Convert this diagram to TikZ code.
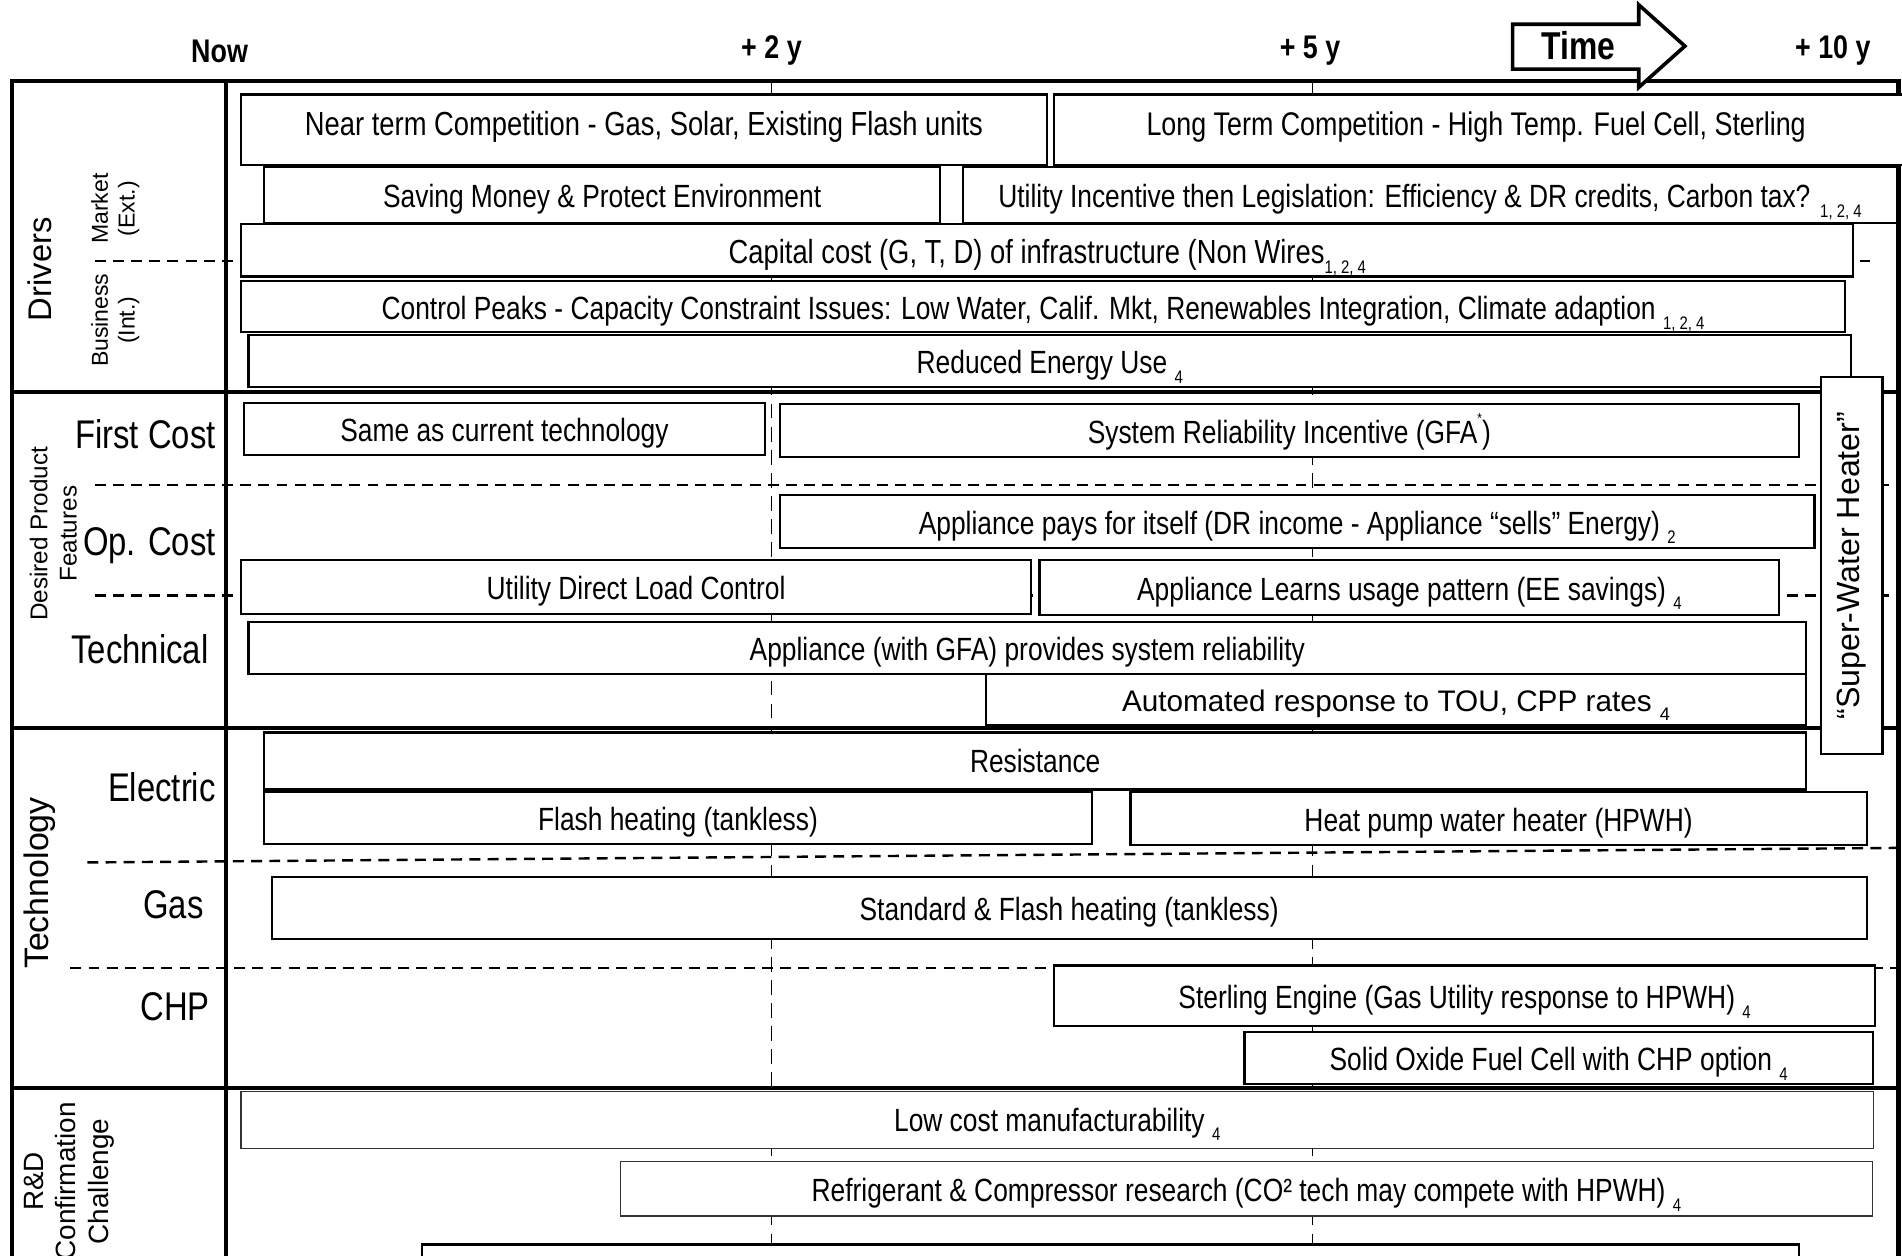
\documentclass[tikz,border=0pt]{standalone}
\usepackage{fontspec}
\setmainfont{Liberation Sans}[FakeStretch=0.82]
\newfontfamily\widefont{Liberation Sans}
\newcommand\lsub[1]{\raisebox{-0.3em}{\fontsize{15}{15}\selectfont #1}}
\newcommand\lsup[1]{\raisebox{0.6em}{\fontsize{12}{12}\selectfont #1}}
\begin{document}
\begin{tikzpicture}[x=1pt,y=-1pt,
  bx/.style={draw=black, line width=1.8pt, fill=white, inner sep=0pt, anchor=north west,
    text height=21pt, text depth=0pt, font=\fontsize{26.5}{28}\selectfont},
  thinbx/.style={bx, draw=black!80, line width=1.1pt},
  frameline/.style={line width=3.5pt},
  subline/.style={dash pattern=on 9pt off 6pt, line width=2pt},
  tline/.style={dash pattern=on 12pt off 7pt, line width=1.6pt},
  hdr/.style={font=\bfseries\fontsize{27}{30}\selectfont, inner sep=0pt},
  rowlbl/.style={font=\fontsize{33}{35}\selectfont, inner sep=0pt, anchor=east},
  rotlbl/.style={rotate=90, align=center, inner sep=0pt},
]
\useasboundingbox (0,0) rectangle (1568,1035);

% time grid lines
\draw[tline] (636,67) -- (636,1045);
\draw[tline] (1082,67) -- (1082,1045);

% sub dividers
\draw[subline] (78,215) -- (1547,215);
\draw[subline] (78,400) -- (1565,400);
\draw[subline] (78,491) -- (1565,491);
\draw[subline] (72,711) -- (1565,699);
\draw[subline] (58,798) -- (1565,798);

% frame
\draw[frameline] (10,1045) -- (10,67) -- (1565,67) -- (1565,1045);
\draw[frameline] (186,67) -- (186,1045);
\draw[frameline] (10,323) -- (1565,323);
\draw[frameline] (10,600) -- (1565,600);
\draw[frameline] (10,897) -- (1565,897);

% header
\node[hdr] (now) at (181,42) {Now};
\node[hdr] (y2) at (636,42) {+ 2 y};
\node[hdr] (y5) at (1080,42) {+ 5 y};
\node[hdr] (y10) at (1511,42) {+ 10 y};
\draw[line width=3pt, fill=white] (1247,20) -- (1351,20) -- (1351,4) -- (1389,38) -- (1351,72) -- (1351,57) -- (1247,57) -- cycle;
\node[font=\bfseries\fontsize{32}{35}\selectfont, inner sep=0pt] (timelbl) at (1301,38) {Time};

% left labels
\node[rotlbl, font=\widefont\fontsize{27}{30}\selectfont] (drivers) at (33,222) {Drivers};
\node[rotlbl, font=\widefont\fontsize{19}{22}\selectfont] (market) at (95,172) {Market\\(Ext.)};
\node[rotlbl, font=\widefont\fontsize{19}{22}\selectfont] (business) at (95,264) {Business\\(Int.)};
\node[rotlbl, font=\widefont\fontsize{20}{24}\selectfont] (desired) at (44,440) {Desired Product\\Features};
\node[rotlbl, font=\widefont\fontsize{28}{30}\selectfont] (technology) at (33,728) {Technology};
\node[rotlbl, font=\widefont\fontsize{23}{27}\selectfont] (rnd) at (57,974) {R\&D\\Confirmation\\Challenge};

\node[rowlbl] (firstcost) at (178,358) {First Cost};
\node[rowlbl] (opcost) at (178,450) {Op. Cost};
\node[rowlbl] (technical) at (172,535) {Technical};
\node[rowlbl] (electric) at (178,649) {Electric};
\node[rowlbl] (gas) at (168,746) {Gas};
\node[rowlbl] (chp) at (173,830) {CHP};

% Drivers boxes
\node[bx, minimum width=664pt, minimum height=58pt, text height=19pt, text depth=10pt, font=\fontsize{27.5}{29}\selectfont] (nearterm) at (198,77) {Near term Competition - Gas, Solar, Existing Flash units};
\node[bx, minimum width=704pt, minimum height=58pt, text height=19pt, text depth=10pt, font=\fontsize{27}{29}\selectfont] (longterm) at (868,77) {\hspace*{-4pt}Long Term Competition - High Temp. Fuel Cell, Sterling\hspace*{4pt}};
\node[bx, minimum width=557pt, minimum height=46pt] (saving) at (217,137) {Saving Money \& Protect Environment};
\node[bx, minimum width=770pt, minimum height=46pt] (utilinc) at (793,137) {Utility Incentive then Legislation: Efficiency \& DR credits, Carbon tax? \lsub{1, 2, 4}};
\node[bx, minimum width=1329pt, minimum height=43pt, font=\fontsize{27.5}{29}\selectfont] (capital) at (198,184) {Capital cost (G, T, D) of infrastructure (Non Wires\lsub{1, 2, 4}};
\node[bx, minimum width=1322pt, minimum height=42pt] (peaks) at (198,231) {Control Peaks - Capacity Constraint Issues: Low Water, Calif. Mkt, Renewables Integration, Climate adaption \lsub{1, 2, 4}};
\node[bx, minimum width=1321pt, minimum height=43pt] (reduced) at (204,275) {Reduced Energy Use \lsub{4}};

% Super water heater
\node[bx, minimum width=51pt, minimum height=311pt] (super) at (1500,310) {};
\node[rotlbl, font=\widefont\fontsize{26.5}{28}\selectfont] (superlbl) at (super.center) {“Super-Water Heater”};

% Desired product features boxes
\node[bx, minimum width=430pt, minimum height=43pt] (same) at (200,331) {Same as current technology};
\node[bx, minimum width=840pt, minimum height=44pt] (sysrel) at (642,332) {System Reliability Incentive (GFA\lsup{*})};
\node[bx, minimum width=853pt, minimum height=44pt] (pays) at (642,407) {Appliance pays for itself (DR income - Appliance “sells” Energy) \lsub{2}};
\node[bx, minimum width=651pt, minimum height=44pt] (udlc) at (198,461) {Utility Direct Load Control};
\node[bx, minimum width=610pt, minimum height=45pt] (learns) at (856,461) {Appliance Learns usage pattern (EE savings) \lsub{4}};
\node[bx, minimum width=1284pt, minimum height=43pt] (gfa) at (204,512) {Appliance (with GFA) provides system reliability};
\node[bx, minimum width=676pt, minimum height=42pt, font=\widefont\fontsize{24.5}{26}\selectfont, text height=19pt] (auto) at (812,555) {Automated response to TOU, CPP rates \lsub{4}};

% Technology boxes
\node[bx, minimum width=1271pt, minimum height=47pt, text height=19pt] (resist) at (217,603) {Resistance};
\node[bx, minimum width=682pt, minimum height=43pt] (flash) at (217,652) {Flash heating (tankless)};
\node[bx, minimum width=607pt, minimum height=44pt] (hpwh) at (931,652) {Heat pump water heater (HPWH)};
\node[bx, minimum width=1315pt, minimum height=51pt] (standard) at (223,722) {Standard \& Flash heating (tankless)};
\node[bx, minimum width=677pt, minimum height=50pt] (sterling) at (868,795) {Sterling Engine (Gas Utility response to HPWH) \lsub{4}};
\node[bx, minimum width=518pt, minimum height=43pt] (sofc) at (1025,850) {Solid Oxide Fuel Cell with CHP option \lsub{4}};

% R&D boxes
\node[thinbx, minimum width=1346pt, minimum height=47pt, text height=19pt] (lowcost) at (198,899) {Low cost manufacturability \lsub{4}};
\node[thinbx, minimum width=1032pt, minimum height=45pt] (refrig) at (511,957) {Refrigerant \& Compressor research (CO² tech may compete with HPWH) \lsub{4}};
\node[bx, minimum width=1135pt, minimum height=40pt] (bottombox) at (347,1025) {};
\end{tikzpicture}
\end{document}
